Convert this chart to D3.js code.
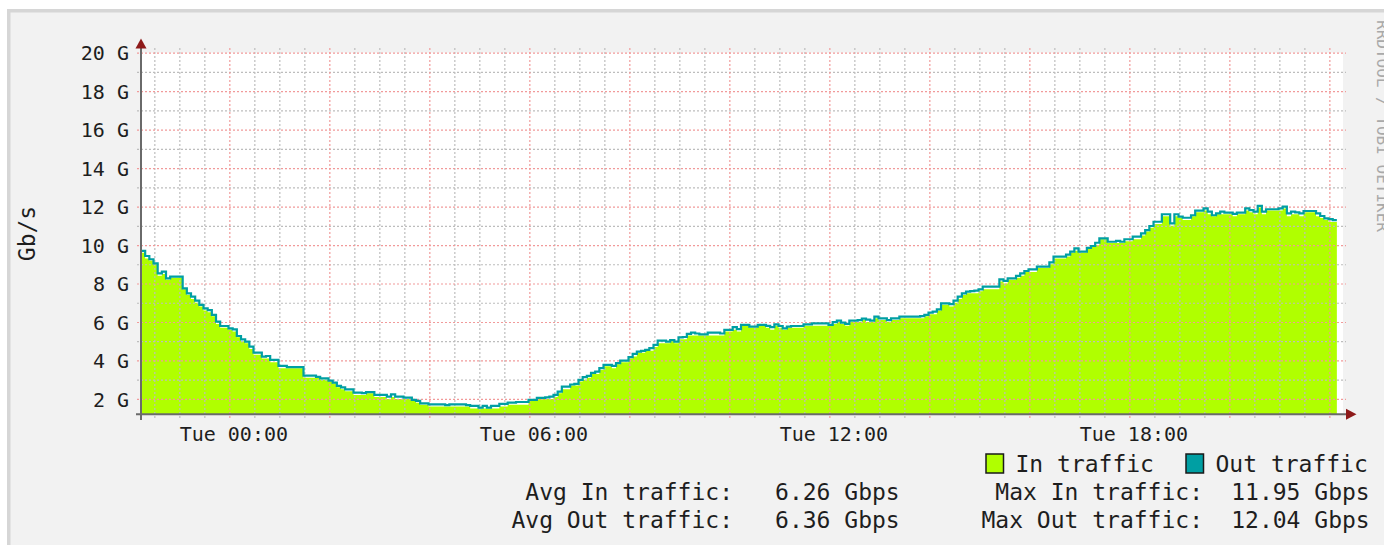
<!DOCTYPE html>
<html><head><meta charset="utf-8">
<script src="https://cdn.jsdelivr.net/npm/d3@7"></script>
<style>html,body{margin:0;padding:0;background:#fff;overflow:hidden}svg{display:block}</style>
</head><body><svg id="c" width="1384" height="545"></svg>
<script>
// ---------- data ----------
const startTime = new Date(2024, 0, 1, 22, 14); // Mon 22:14
const stepMinutes = 5;
const windowMinutes = 1442;

const outTraffic = [
 9.70, 9.43, 9.26, 9.05, 8.53, 8.62, 8.27, 8.36, 8.36, 8.36, 7.75, 7.49,
 7.32, 7.11, 6.89, 6.71, 6.62, 6.37, 6.02, 5.79, 5.79, 5.67, 5.62, 5.27,
 5.10, 4.98, 4.72, 4.41, 4.41, 4.20, 4.23, 4.03, 4.03, 3.72, 3.72, 3.65,
 3.65, 3.65, 3.65, 3.21, 3.21, 3.21, 3.15, 3.07, 3.07, 2.95, 2.85, 2.68,
 2.60, 2.50, 2.50, 2.33, 2.33, 2.30, 2.35, 2.35, 2.21, 2.21, 2.21, 2.12,
 2.24, 2.12, 2.12, 2.07, 2.07, 1.95, 1.90, 1.77, 1.77, 1.72, 1.72, 1.72,
 1.72, 1.68, 1.72, 1.72, 1.72, 1.72, 1.68, 1.64, 1.64, 1.55, 1.64, 1.55,
 1.64, 1.64, 1.74, 1.74, 1.81, 1.81, 1.84, 1.84, 1.84, 1.95, 1.95, 2.05,
 2.05, 2.08, 2.12, 2.21, 2.38, 2.64, 2.64, 2.75, 2.78, 2.99, 3.13, 3.20,
 3.35, 3.42, 3.60, 3.77, 3.77, 3.72, 3.86, 3.99, 3.99, 4.17, 4.34, 4.46,
 4.50, 4.55, 4.64, 4.81, 5.03, 5.03, 4.98, 5.06, 4.98, 5.20, 5.22, 5.38,
 5.45, 5.40, 5.36, 5.36, 5.45, 5.45, 5.45, 5.40, 5.59, 5.59, 5.73, 5.63,
 5.85, 5.85, 5.76, 5.76, 5.85, 5.85, 5.80, 5.73, 5.88, 5.79, 5.67, 5.76,
 5.79, 5.79, 5.79, 5.88, 5.88, 5.93, 5.93, 5.93, 5.93, 5.85, 5.99, 6.07,
 5.97, 5.90, 6.07, 6.07, 6.10, 6.17, 6.12, 6.07, 6.28, 6.19, 6.19, 6.10,
 6.19, 6.19, 6.28, 6.28, 6.28, 6.28, 6.28, 6.30, 6.37, 6.49, 6.54, 6.66,
 6.97, 6.97, 6.93, 7.11, 7.32, 7.49, 7.58, 7.60, 7.63, 7.70, 7.84, 7.84,
 7.84, 7.84, 8.22, 8.14, 8.27, 8.27, 8.40, 8.53, 8.65, 8.74, 8.74, 8.88,
 8.88, 8.88, 9.10, 9.40, 9.40, 9.40, 9.50, 9.66, 9.83, 9.66, 9.66, 9.85,
 9.95, 10.12, 10.35, 10.35, 10.17, 10.17, 10.22, 10.17, 10.30, 10.30, 10.44, 10.44,
 10.61, 10.78, 10.99, 11.21, 11.21, 11.60, 11.60, 11.13, 11.60, 11.48, 11.42, 11.42,
 11.55, 11.79, 11.79, 11.91, 11.74, 11.55, 11.65, 11.74, 11.69, 11.69, 11.62, 11.69,
 11.69, 11.91, 11.82, 11.74, 12.04, 11.74, 11.86, 11.86, 11.86, 11.91, 12.00, 11.65,
 11.74, 11.70, 11.65, 11.77, 11.77, 11.77, 11.65, 11.51, 11.39, 11.35, 11.30
];

const inTraffic = [
 9.6, 9.3, 9.2, 9.0, 8.4, 8.5, 8.2, 8.3, 8.3, 8.3, 7.7, 7.4,
 7.2, 7.0, 6.8, 6.6, 6.5, 6.3, 5.9, 5.7, 5.7, 5.6, 5.5, 5.2,
 5.0, 4.9, 4.6, 4.3, 4.3, 4.1, 4.1, 3.9, 3.9, 3.6, 3.6, 3.6,
 3.6, 3.6, 3.6, 3.1, 3.1, 3.1, 3.1, 3.0, 3.0, 2.9, 2.8, 2.6,
 2.5, 2.4, 2.4, 2.2, 2.2, 2.2, 2.3, 2.3, 2.1, 2.1, 2.1, 2.0,
 2.1, 2.0, 2.0, 2.0, 2.0, 1.9, 1.8, 1.7, 1.7, 1.6, 1.6, 1.6,
 1.6, 1.6, 1.6, 1.6, 1.6, 1.6, 1.6, 1.5, 1.5, 1.5, 1.5, 1.5,
 1.5, 1.5, 1.6, 1.6, 1.7, 1.7, 1.7, 1.7, 1.7, 1.9, 1.9, 2.0,
 2.0, 2.0, 2.0, 2.1, 2.3, 2.5, 2.5, 2.7, 2.7, 2.9, 3.0, 3.1,
 3.3, 3.3, 3.5, 3.7, 3.7, 3.6, 3.8, 3.9, 3.9, 4.1, 4.2, 4.4,
 4.4, 4.5, 4.5, 4.7, 4.9, 4.9, 4.9, 5.0, 4.9, 5.1, 5.1, 5.3,
 5.3, 5.3, 5.3, 5.3, 5.3, 5.3, 5.3, 5.3, 5.5, 5.5, 5.6, 5.5,
 5.8, 5.8, 5.7, 5.7, 5.8, 5.8, 5.7, 5.6, 5.8, 5.7, 5.6, 5.7,
 5.7, 5.7, 5.7, 5.8, 5.8, 5.8, 5.8, 5.8, 5.8, 5.8, 5.9, 6.0,
 5.9, 5.8, 6.0, 6.0, 6.0, 6.1, 6.0, 6.0, 6.2, 6.1, 6.1, 6.0,
 6.1, 6.1, 6.2, 6.2, 6.2, 6.2, 6.2, 6.2, 6.3, 6.4, 6.4, 6.6,
 6.9, 6.9, 6.8, 7.0, 7.2, 7.4, 7.5, 7.5, 7.5, 7.6, 7.7, 7.7,
 7.7, 7.7, 8.1, 8.0, 8.2, 8.2, 8.3, 8.4, 8.6, 8.6, 8.6, 8.8,
 8.8, 8.8, 9.0, 9.3, 9.3, 9.3, 9.4, 9.6, 9.7, 9.6, 9.6, 9.8,
 9.9, 10.0, 10.3, 10.3, 10.1, 10.1, 10.1, 10.1, 10.2, 10.2, 10.3, 10.3,
 10.5, 10.7, 10.9, 11.1, 11.1, 11.5, 11.5, 11.0, 11.5, 11.4, 11.3, 11.3,
 11.5, 11.7, 11.7, 11.8, 11.6, 11.5, 11.6, 11.6, 11.6, 11.6, 11.5, 11.6,
 11.6, 11.8, 11.7, 11.6, 11.95, 11.6, 11.8, 11.8, 11.8, 11.8, 11.9, 11.5,
 11.6, 11.6, 11.5, 11.7, 11.7, 11.7, 11.5, 11.4, 11.3, 11.2, 11.2
];

const yMin = 1.2, yMax = 20;
const yTickValues = [2, 4, 6, 8, 10, 12, 14, 16, 18, 20];
const yTickLabels = ["2 G", "4 G", "6 G", "8 G", "10 G", "12 G", "14 G", "16 G", "18 G", "20 G"];
const yMinorValues = [3, 5, 7, 9, 11, 13, 15, 17, 19];
const xTickHours = [0, 6, 12, 18];
const xTickLabels = ["Tue 00:00", "Tue 06:00", "Tue 12:00", "Tue 18:00"];
const yTitle = "Gb/s";
const watermark = "RRDTOOL / TOBI OETIKER";
const legendNames = ["In traffic", "Out traffic"];
const legendColors = ["#b0ff00", "#009fa3"];
const avgLabels = ["Avg In traffic:", "Avg Out traffic:"];
const avgValues = ["6.26 Gbps", "6.36 Gbps"];
const maxLabels = ["Max In traffic:", "Max Out traffic:"];
const maxValues = ["11.95 Gbps", "12.04 Gbps"];

// ---------- layout ----------
const FONT = "'DejaVu Sans Mono', monospace";
const L = 141, R = 1342.7, PR = 1343, T = 52.7, B = 414.3;
const svg = d3.select("#c");

svg.append("rect").attr("x", 7).attr("y", 9).attr("width", 1400).attr("height", 600).attr("fill", "#d6d6d6");
svg.append("rect").attr("x", 10.5).attr("y", 12.5).attr("width", 1400).attr("height", 600).attr("fill", "#f2f2f2");

const x = d3.scaleTime()
  .domain([startTime, d3.timeMinute.offset(startTime, windowMinutes)])
  .range([L, R]);
const y = d3.scaleLinear().domain([yMin, yMax]).range([B, T]);

// plot background
svg.append("rect").attr("x", L).attr("y", y(yMax)).attr("width", PR - L).attr("height", y(yMin) - y(yMax)).attr("fill", "#fff");

const tAt = i => d3.timeMinute.offset(startTime, i * stepMinutes);
const toPts = arr => {
  const p = arr.map((v, i) => [tAt(i), v]);
  p.push([tAt(arr.length), arr[arr.length - 1]]);
  return p;
};
const inPts = toPts(inTraffic), outPts = toPts(outTraffic);

// area (In)
svg.append("path")
  .attr("d", d3.area().curve(d3.curveStepAfter).x(d => x(d[0])).y0(y(yMin)).y1(d => y(d[1]))(inPts))
  .attr("fill", legendColors[0]);

// grid
const endTime = d3.timeMinute.offset(startTime, windowMinutes);
const halfHours = d3.timeMinute.every(30).range(startTime, endTime);
const isMajor = d => d.getMinutes() === 0 && d.getHours() % 2 === 0;
const minorTimes = halfHours.filter(d => !isMajor(d));
const majorTimes = halfHours.filter(isMajor);

function styleGrid(g, color) {
  g.select(".domain").remove();
  g.selectAll("text").remove();
  g.selectAll("line").attr("stroke", color).attr("stroke-width", 1.2).attr("stroke-dasharray", "2,2");
}
const GX0 = 137, GX1 = 1346, GY0 = 48, GY1 = 418;
svg.append("g").attr("transform", `translate(0,${GY1})`)
  .call(d3.axisBottom(x).tickValues(minorTimes).tickSize(-(GY1 - GY0)).tickFormat(""))
  .call(g => styleGrid(g, "#bdbdbd"));
svg.append("g").attr("transform", `translate(${GX0},0)`)
  .call(d3.axisLeft(y).tickValues(yMinorValues).tickSize(-(GX1 - GX0)).tickFormat(""))
  .call(g => styleGrid(g, "#bdbdbd"));
svg.append("g").attr("transform", `translate(0,${GY1})`)
  .call(d3.axisBottom(x).tickValues(majorTimes).tickSize(-(GY1 - GY0)).tickFormat(""))
  .call(g => styleGrid(g, "#f19a9a"));
svg.append("g").attr("transform", `translate(${GX0},0)`)
  .call(d3.axisLeft(y).tickValues(yTickValues).tickSize(-(GX1 - GX0)).tickFormat(""))
  .call(g => styleGrid(g, "#f19a9a"));

// Out line
svg.append("path")
  .attr("d", d3.line().curve(d3.curveStepAfter).x(d => x(d[0])).y(d => y(d[1]))(outPts))
  .attr("fill", "none").attr("stroke", legendColors[1]).attr("stroke-width", 2.2);

// axes lines and arrows
svg.append("line").attr("x1", 136).attr("x2", 1347).attr("y1", B).attr("y2", B).attr("stroke", "#6a6a6a").attr("stroke-width", 2);
svg.append("line").attr("x1", L).attr("x2", L).attr("y1", 420).attr("y2", 47).attr("stroke", "#6a6a6a").attr("stroke-width", 2);
svg.append("path").attr("d", `M${L},38.5 L${L - 5.5},48.5 L${L + 5.5},48.5 Z`).attr("fill", "#8e1a1a");
svg.append("path").attr("d", `M1356.5,${B} L1346,${B - 5.5} L1346,${B + 5.5} Z`).attr("fill", "#8e1a1a");

// y labels
svg.append("g").attr("transform", "translate(129,0)")
  .call(d3.axisLeft(y).tickValues(yTickValues).tickSize(0).tickPadding(0).tickFormat((d, i) => yTickLabels[i]))
  .call(g => {
    g.select(".domain").remove();
    g.selectAll("text").attr("font-family", FONT).attr("font-size", 20).attr("fill", "#1e1e1e").attr("dy", "0.36em");
  });

// x labels
const xTickTimes = xTickHours.map(h => new Date(2024, 0, 2, h, 0));
svg.append("g").attr("transform", "translate(4,426.3)")
  .call(d3.axisBottom(x).tickValues(xTickTimes).tickSize(0).tickPadding(0).tickFormat((d, i) => xTickLabels[i]))
  .call(g => {
    g.select(".domain").remove();
    g.selectAll("text").attr("font-family", FONT).attr("font-size", 20).attr("fill", "#1e1e1e");
  });

// y title
svg.append("text").attr("transform", `translate(35,${(T + B) / 2}) rotate(-90)`)
  .attr("text-anchor", "middle").attr("font-family", FONT).attr("font-size", 23).attr("fill", "#1e1e1e").text(yTitle);

// watermark
svg.append("text").attr("transform", "translate(1376.5,20) rotate(90)")
  .attr("font-family", FONT).attr("font-size", 16).attr("fill", "#a9a9a9").text(watermark);

// legend
const legX = [986, 1186], legTextX = [1015.5, 1215.5];
legendNames.forEach((n, i) => {
  svg.append("rect").attr("x", legX[i]).attr("y", 454).attr("width", 17.5).attr("height", 19)
    .attr("fill", legendColors[i]).attr("stroke", "#1a1a1a").attr("stroke-width", 1.5);
  svg.append("text").attr("x", legTextX[i]).attr("y", 471.5).attr("font-family", FONT).attr("font-size", 23)
    .attr("fill", "#1e1e1e").text(n);
});
const rowY = [500, 527.5];
const statText = (tx, ty, s) => svg.append("text").attr("x", tx).attr("y", ty).attr("text-anchor", "end")
  .attr("font-family", FONT).attr("font-size", 23).attr("fill", "#1e1e1e").attr("xml:space", "preserve").text(s);
avgLabels.forEach((s, i) => statText(733, rowY[i], s));
avgValues.forEach((s, i) => statText(899.7, rowY[i], s));
maxLabels.forEach((s, i) => statText(1203, rowY[i], s));
maxValues.forEach((s, i) => statText(1369.7, rowY[i], s));
</script></body></html>
